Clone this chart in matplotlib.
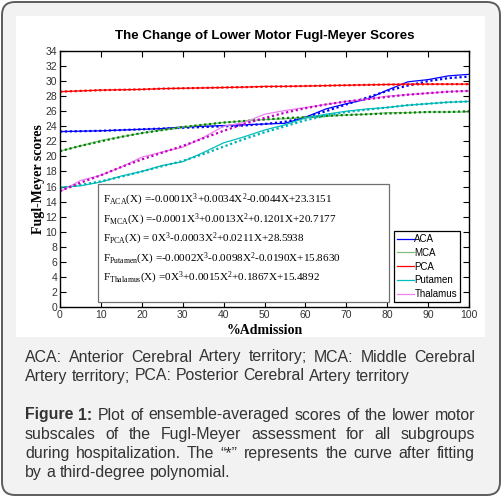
import matplotlib
matplotlib.use("Agg")
import matplotlib.pyplot as plt
from matplotlib.patches import FancyBboxPatch, Rectangle
import numpy as np

# %Admission sample points
admission = [0, 5, 10, 15, 20, 25, 30, 35, 40, 45, 50,
             55, 60, 65, 70, 75, 80, 85, 90, 95, 100]

# raw ensemble-averaged scores (solid lines)
aca = [23.3, 23.35, 23.4, 23.5, 23.6, 23.7, 23.9, 24.0, 24.1, 24.2, 24.3,
       24.4, 25.2, 26.3, 27.0, 27.6, 28.8, 29.9, 30.2, 30.7, 30.9]
mca = [20.7, 21.4, 22.1, 22.6, 23.1, 23.5, 23.9, 24.2, 24.5, 24.7, 24.9,
       25.0, 25.2, 25.3, 25.5, 25.6, 25.8, 25.8, 25.9, 25.9, 25.9]
pca = [28.6, 28.7, 28.8, 28.85, 28.9, 29.0, 29.05, 29.1, 29.15, 29.2, 29.3,
       29.3, 29.35, 29.4, 29.45, 29.5, 29.55, 29.6, 29.6, 29.6, 29.6]
putamen = [15.9, 16.1, 16.6, 17.4, 18.0, 18.8, 19.3, 20.5, 21.8, 22.6, 23.5,
           24.2, 25.1, 25.6, 26.0, 26.3, 26.5, 26.8, 27.0, 27.2, 27.3]
thalamus = [15.3, 16.8, 17.5, 18.6, 19.9, 20.6, 21.2, 22.5, 24.0, 24.5, 25.6,
            26.1, 26.5, 26.9, 27.3, 27.6, 28.0, 28.2, 28.4, 28.6, 28.7]

# third-degree polynomial fits (dotted "*" curves)
aca_fit = [23.3, 23.35, 23.4, 23.5, 23.6, 23.7, 23.8, 23.9, 24.0, 24.1, 24.3,
           24.6, 25.2, 26.0, 26.9, 27.8, 28.7, 29.4, 30.0, 30.4, 30.6]
mca_fit = [20.7, 21.4, 22.0, 22.6, 23.1, 23.5, 23.9, 24.2, 24.5, 24.7, 24.9,
           25.1, 25.2, 25.4, 25.5, 25.6, 25.7, 25.8, 25.9, 25.9, 26.0]
pca_fit = [28.6, 28.7, 28.8, 28.85, 28.9, 29.0, 29.05, 29.1, 29.15, 29.2, 29.25,
           29.3, 29.35, 29.4, 29.45, 29.5, 29.55, 29.55, 29.6, 29.6, 29.6]
putamen_fit = [15.8, 16.2, 16.7, 17.3, 18.0, 18.7, 19.4, 20.3, 21.3, 22.3, 23.2,
               24.0, 24.8, 25.4, 25.9, 26.2, 26.5, 26.8, 27.0, 27.2, 27.3]
thalamus_fit = [15.4, 16.5, 17.5, 18.6, 19.6, 20.5, 21.4, 22.4, 23.4, 24.3, 25.1,
                25.8, 26.4, 26.9, 27.3, 27.6, 27.9, 28.2, 28.4, 28.6, 28.7]

labels = ["ACA", "MCA", "PCA", "Putamen", "Thalamus"]
raw_colors = ["#0000ff", "#7fbf7f", "#ff0000", "#00bfbf", "#ee82ee"]
fit_colors = ["#0000ff", "#008000", "#ff0000", "#00b0b0", "#c000c0"]

equations = [
    r"F$_{\mathrm{ACA}}$(X) =-0.0001X$^{3}$+0.0034X$^{2}$-0.0044X+23.3151",
    r"F$_{\mathrm{MCA}}$(X) =-0.0001X$^{3}$+0.0013X$^{2}$+0.1201X+20.7177",
    r"F$_{\mathrm{PCA}}$(X) = 0X$^{3}$-0.0003X$^{2}$+0.0211X+28.5938",
    r"F$_{\mathrm{Putamen}}$(X) =-0.0002X$^{3}$-0.0098X$^{2}$-0.0190X+15.8630",
    r"F$_{\mathrm{Thalamus}}$(X) =0X$^{3}$+0.0015X$^{2}$+0.1867X+15.4892",
]

caption1 = ["ACA: Anterior Cerebral Artery territory; MCA: Middle Cerebral",
            "Artery territory; PCA: Posterior Cerebral Artery territory"]
caption2 = ["Figure 1: Plot of ensemble-averaged scores of the lower motor",
            "subscales of the Fugl-Meyer assessment for all subgroups",
            "during hospitalization. The \u201c*\u201d represents the curve after fitting",
            "by a third-degree polynomial."]

plt.rcParams["mathtext.fontset"] = "custom"
plt.rcParams["mathtext.rm"] = "Liberation Serif"
plt.rcParams["mathtext.it"] = "Liberation Serif:italic"

W, H = 502, 497
fig = plt.figure(figsize=(W / 100, H / 100), dpi=100)

# background in pixel coordinates
bg = fig.add_axes([0, 0, 1, 1])
bg.set_xlim(0, W)
bg.set_ylim(H, 0)
bg.axis("off")
bg.add_patch(FancyBboxPatch((2, 2), W - 4, H - 4,
                            boxstyle="round,pad=0,rounding_size=13",
                            facecolor="#f1f2f1", edgecolor="#5c5c5c", lw=1.4))
bg.add_patch(Rectangle((16, 16), 469, 321, facecolor="white", edgecolor="none"))

# chart axes
ax = fig.add_axes([60 / W, 1 - 307 / H, 409 / W, 256 / H])
for lab, y, yf, rc, fc in zip(labels, [aca, mca, pca, putamen, thalamus],
                              [aca_fit, mca_fit, pca_fit, putamen_fit, thalamus_fit],
                              raw_colors, fit_colors):
    ax.plot(admission, y, color=rc, lw=0.9, label=lab)
    ax.plot(admission, yf, color=fc, lw=1.6, ls=(0, (1, 1.2)))

ax.set_xlim(0, 100)
ax.set_ylim(0, 34)
ax.set_xticks(range(0, 101, 10))
ax.set_yticks(range(0, 35, 2))
ax.tick_params(direction="in", top=True, right=True, length=4, width=0.8,
               labelsize=7.5, labelcolor="#333333", pad=2)
for lbl in ax.get_xticklabels() + ax.get_yticklabels():
    lbl.set_family("Liberation Sans")
for s in ax.spines.values():
    s.set_linewidth(1.0)
    s.set_color("black")

ax.set_title("The Change of Lower Motor Fugl-Meyer Scores", family="Liberation Sans",
             fontweight="bold", fontsize=9.6, pad=9)
ax.set_ylabel("Fugl-Meyer scores", family="Liberation Serif", fontweight="bold",
              fontsize=10, labelpad=0)
ax.set_xlabel("%Admission", family="Liberation Serif", fontweight="bold",
              fontsize=10, labelpad=3)

# equation box
ax.add_patch(Rectangle((0.093, 0.02), 0.711, 0.46, transform=ax.transAxes,
                       facecolor="white", edgecolor="#707070", lw=0.9, zorder=5))
for i, eq in enumerate(equations):
    ax.text(0.105, 0.418 - i * 0.0765, eq, transform=ax.transAxes,
            family="Liberation Serif", fontsize=8.0, va="center", zorder=6)

leg = ax.legend(loc="lower right", bbox_to_anchor=(0.978, 0.02), frameon=True,
                fancybox=False, edgecolor="black", framealpha=1,
                prop={"family": "Liberation Sans", "size": 7},
                handlelength=1.8, handletextpad=0.0, labelspacing=0.38,
                borderpad=0.3, borderaxespad=0)
leg.get_frame().set_linewidth(0.9)
leg.set_zorder(7)

# justified caption text
fig.canvas.draw()
renderer = fig.canvas.get_renderer()
cap_font = dict(family="Liberation Sans", fontsize=11.4, color="#333333")


def text_width(s, weight="normal"):
    t = bg.text(0, 0, s, fontweight=weight, **cap_font)
    w = t.get_window_extent(renderer).width
    t.remove()
    return w


space_w = text_width("a a") - text_width("aa")
left, right = 25, 475


def draw_para(lines, y0, step, bold_words=0):
    count = 0
    for li, line in enumerate(lines):
        words = line.split(" ")
        weights = []
        for w in words:
            weights.append("bold" if count < bold_words else "normal")
            count += 1
        widths = [text_width(w, wt) for w, wt in zip(words, weights)]
        last = li == len(lines) - 1
        gap = space_w if last else (right - left - sum(widths)) / (len(words) - 1)
        x = left
        for w, wt, wd in zip(words, weights, widths):
            bg.text(x, y0 + li * step, w, fontweight=wt, va="center", ha="left",
                    **cap_font)
            x += wd + gap


draw_para(caption1, 357, 19)
draw_para(caption2, 415, 19.3, bold_words=2)

fig.savefig("out.png", dpi=100)
